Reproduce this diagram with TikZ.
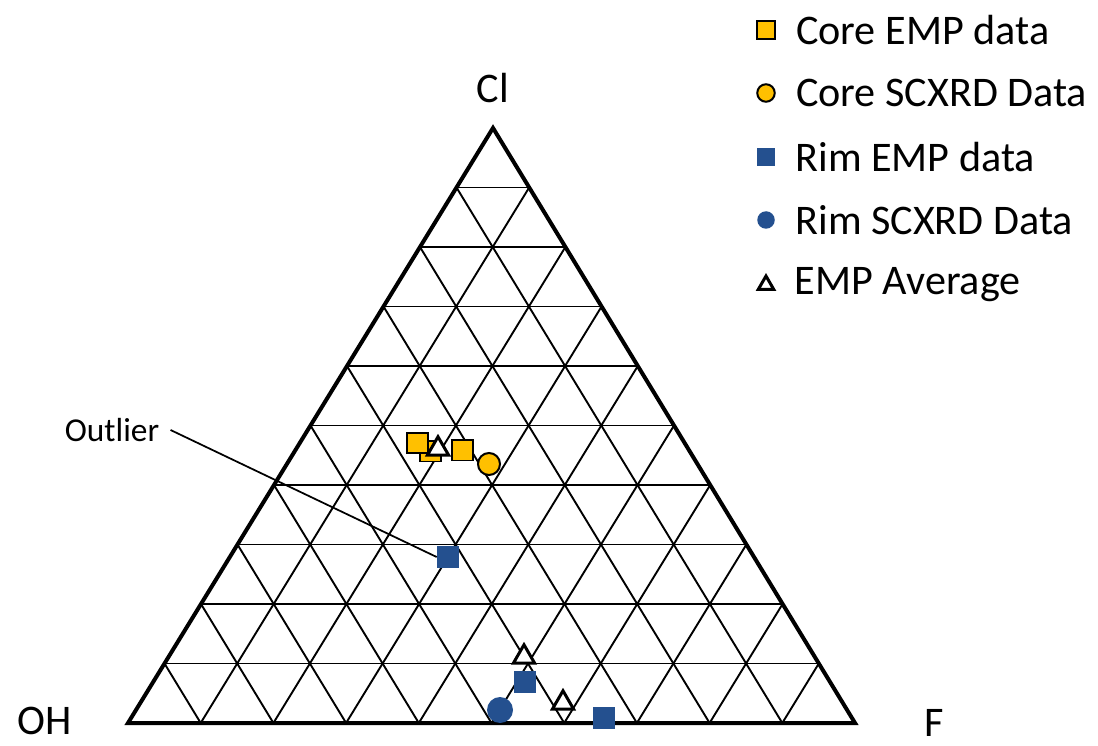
\documentclass[tikz,border=0pt]{standalone}
\usepackage{fontspec}
\setmainfont{Carlito}
\usepackage{tikz}
\usetikzlibrary{positioning, calc, shapes.geometric}
\definecolor{coreyellow}{HTML}{FFC000}
\definecolor{rimblue}{HTML}{24508F}

\begin{document}
\begin{tikzpicture}[x=0.02cm, y=-0.02cm,
    gridline/.style={line width=0.38mm},
    corner/.style={font=\fontsize{24}{28}\selectfont, inner sep=1pt},
    legtext/.style={font=\fontsize{24}{28}\selectfont, inner sep=0pt, anchor=west},
    coreemp/.style={draw, line width=0.4mm, fill=coreyellow, minimum size=4.2mm, inner sep=0pt},
    corexrd/.style={circle, draw, line width=0.4mm, fill=coreyellow, minimum size=4.4mm, inner sep=0pt},
    rimemp/.style={fill=rimblue, minimum size=4.4mm, inner sep=0pt},
    rimxrd/.style={circle, fill=rimblue, minimum size=5.2mm, inner sep=0pt},
    empavg/.style={regular polygon, regular polygon sides=3, draw, line width=0.6mm,
                   fill=white, minimum size=4.9mm, inner sep=0pt},
    node distance=4mm]
  \useasboundingbox (0,0) rectangle (1098,746);

  % corners of the ternary plot
  \coordinate (OH) at (128,723);
  \coordinate (F) at (855,723);
  \coordinate (Cl) at (493,128);

  % grid, ten steps per side
  \foreach \i in {1,...,9} {
    \draw[gridline] ($(OH)!\i/10!(F)$) -- ($(Cl)!\i/10!(F)$);
    \draw[gridline] ($(OH)!\i/10!(F)$) -- ($(OH)!\i/10!(Cl)$);
    \draw[gridline] ($(OH)!\i/10!(Cl)$) -- ($(F)!\i/10!(Cl)$);
  }
  \draw[line width=0.8mm, line join=miter] (OH) -- (F) -- (Cl) -- cycle;

  \node[corner] (clname) at (493,88) {Cl};
  \node[corner] (ohname) at (45,721) {OH};
  \node[corner] (fname) at (934,723) {F};

  % core data
  \node[coreemp] (core2) at (430,451) {};
  \node[coreemp] (core1) at (417,443) {};
  \node[coreemp] (core3) at (462,450) {};
  \node[corexrd] (corex) at (489,464) {};
  \node[empavg] (avg1) at (438,449) {};

  % rim data
  \node[rimemp] (rim1) at (448,557) {};
  \node[rimemp] (rim2) at (525,682) {};
  \node[rimemp] (rim3) at (604,718) {};
  \node[rimxrd] (rimx) at (500,710) {};
  \node[empavg] (avg2) at (524,657) {};
  \node[empavg] (avg3) at (563,703) {};

  % outlier callout
  \node[font=\fontsize{19}{22}\selectfont, inner sep=2pt] (outlier) at (112,430) {Outlier};
  \draw[line width=0.35mm] ([xshift=1.5mm]outlier.east) -- (rim1.west);

  % legend
  \node[coreemp, minimum size=3.5mm] (leg1) at (766,30) {};
  \node[legtext, right=of leg1] (legt1) {Core EMP data};
  \node[corexrd, minimum size=3.5mm] (leg2) at (766,93) {};
  \node[legtext, right=of leg2] (legt2) {Core SCXRD Data};
  \node[rimemp, minimum size=3.5mm] (leg3) at (766,157) {};
  \node[legtext, right=of leg3] (legt3) {Rim EMP data};
  \node[rimxrd, minimum size=3.5mm] (leg4) at (766,220) {};
  \node[legtext, right=of leg4] (legt4) {Rim SCXRD Data};
  \node[empavg, minimum size=3.6mm] (leg5) at (766,285) {};
  \node[legtext, right=4.3mm of leg5] (legt5) {EMP Average};
\end{tikzpicture}
\end{document}
